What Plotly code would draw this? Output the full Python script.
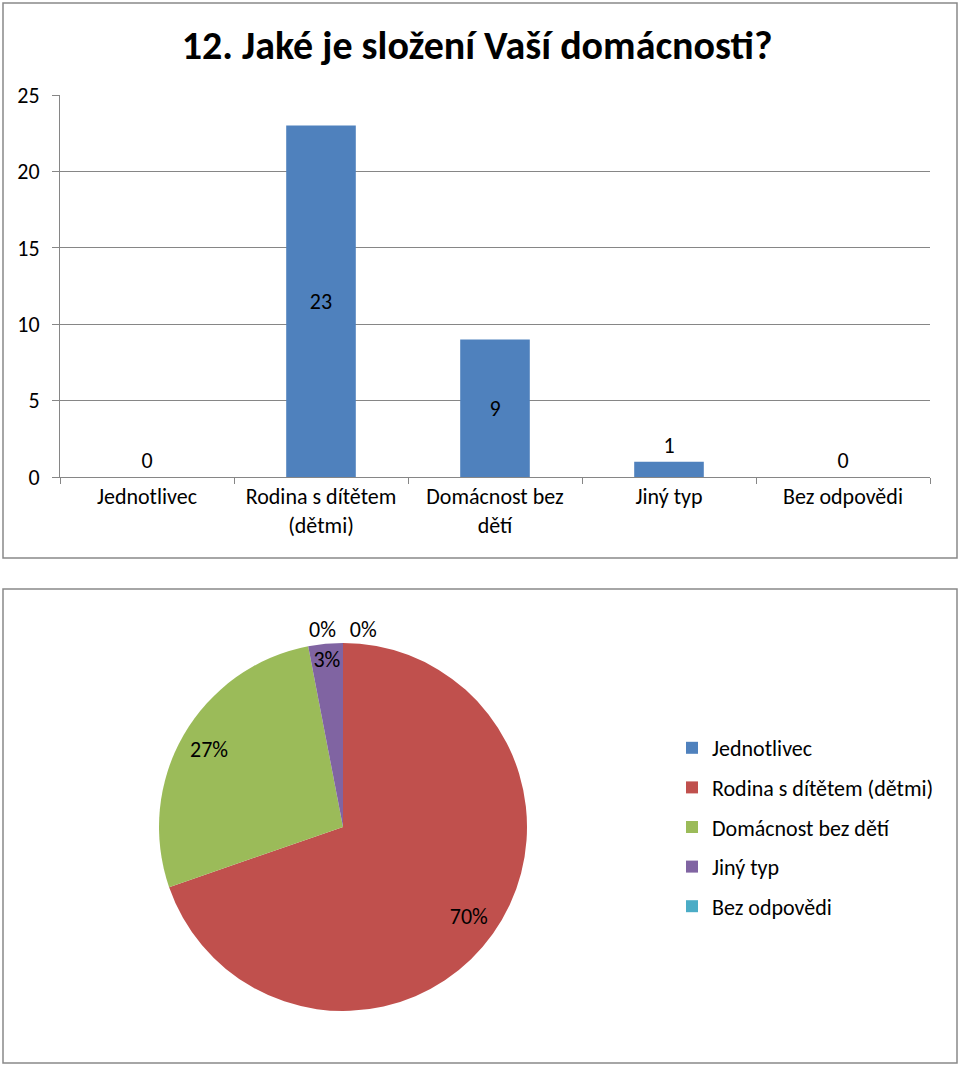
import plotly.graph_objects as go

categories = ["Jednotlivec", "Rodina s dítětem (dětmi)", "Domácnost bez dětí", "Jiný typ", "Bez odpovědi"]
tick_labels = ["Jednotlivec", "Rodina s dítětem<br>(dětmi)", "Domácnost bez<br>dětí", "Jiný typ", "Bez odpovědi"]
counts = [0, 23, 9, 1, 0]
slice_colors = ["#4F81BD", "#C0504D", "#9BBB59", "#8064A2", "#4BACC6"]

FONT = "Carlito, Calibri, Lato, sans-serif"
W, H = 960, 1066

total = sum(counts)
pct_text = [f"{round(100 * v / total)}%" for v in counts]
pie_domain = dict(x=[159 / W, 527 / W], y=[1 - 1011 / H, 1 - 643 / H])

fig = go.Figure()

# bar chart, top panel
fig.add_trace(go.Bar(
    x=tick_labels, y=counts,
    marker=dict(color="#4F81BD", line=dict(width=0)),
    text=[str(v) for v in counts],
    textposition=["inside" if v >= 5 else "outside" for v in counts],
    insidetextanchor="middle",
    textfont=dict(family=FONT, size=22, color="black"),
    constraintext="none", cliponaxis=False,
    showlegend=False, hoverinfo="x+y",
    xaxis="x", yaxis="y",
))

# pie chart, bottom panel
fig.add_trace(go.Pie(
    labels=categories, values=counts,
    marker=dict(colors=slice_colors, line=dict(width=0)),
    sort=False, direction="clockwise", rotation=0,
    textinfo="none",
    domain=pie_domain,
    showlegend=False,
))

# transparent ring on top, only to push the percentage labels towards the rim
fig.add_trace(go.Pie(
    labels=categories, values=counts, hole=0.68,
    marker=dict(colors=["rgba(0,0,0,0)"] * len(counts), line=dict(width=0)),
    sort=False, direction="clockwise", rotation=0,
    text=pct_text, textinfo="text",
    textposition=["inside" if v > 0 else "outside" for v in counts],
    insidetextorientation="horizontal",
    textfont=dict(family=FONT, size=22, color="black"),
    domain=pie_domain,
    showlegend=False, hoverinfo="skip",
))

# legend entries (one group each so the gap between rows can be set)
for name, col in zip(categories, slice_colors):
    fig.add_trace(go.Scatter(
        x=[None], y=[None], mode="markers", name=name,
        marker=dict(symbol="square", size=12, color=col),
        legendgroup=name, showlegend=True, hoverinfo="skip",
    ))

fig.update_layout(
    width=W, height=H,
    margin=dict(l=0, r=0, t=0, b=0, autoexpand=False),
    paper_bgcolor="white", plot_bgcolor="white",
    font=dict(family=FONT, size=22, color="black"),
    uniformtext=dict(minsize=22, mode="show"),
    title=dict(text="<b>12. Jaké je složení Vaší domácnosti?</b>",
               x=0.497, xanchor="center", y=1 - 45 / H, yanchor="middle",
               font=dict(family=FONT, size=40, color="black")),
    bargap=0.6,
    xaxis=dict(domain=[60 / W, 930 / W], anchor="y", type="category",
               showline=True, linecolor="#868686", linewidth=1,
               ticks="outside", tickson="boundaries", ticklen=6, tickcolor="#868686",
               showgrid=False, tickfont=dict(family=FONT, size=22), fixedrange=True),
    yaxis=dict(domain=[1 - 477 / H, 1 - 95 / H], anchor="x",
               range=[0, 25], dtick=5, showline=True, linecolor="#868686",
               ticks="outside", ticklen=7, tickcolor="#868686", ticklabelstandoff=8,
               gridcolor="#868686", gridwidth=1, zeroline=False,
               tickfont=dict(family=FONT, size=22), fixedrange=True),
    legend=dict(x=672 / W, y=1 - 727 / H, xanchor="left", yanchor="top",
                font=dict(family=FONT, size=22), bgcolor="rgba(0,0,0,0)",
                traceorder="grouped", tracegroupgap=8, itemclick=False),
    shapes=[
        dict(type="rect", xref="paper", yref="paper",
             x0=3 / W, x1=957 / W, y0=1 - 558 / H, y1=1 - 3 / H,
             line=dict(color="#898989", width=1.5)),
        dict(type="rect", xref="paper", yref="paper",
             x0=3 / W, x1=957 / W, y0=1 - 1063 / H, y1=1 - 589 / H,
             line=dict(color="#898989", width=1.5)),
    ],
)

fig.write_html("out.html", config={"displayModeBar": False},
               post_script="document.body.style.margin='0';")
